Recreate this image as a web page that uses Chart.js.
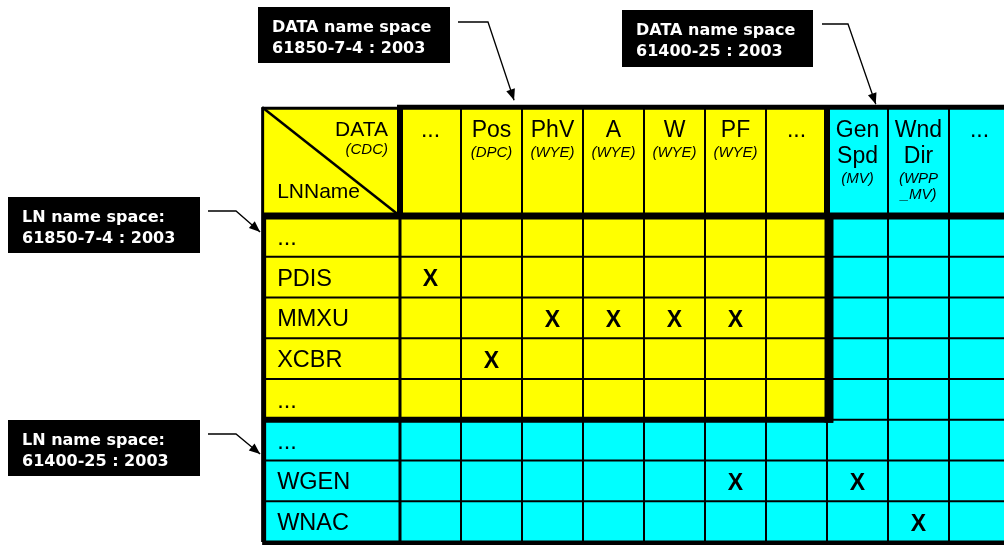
<!DOCTYPE html>
<html>
<head>
<meta charset="utf-8">
<script src="https://cdn.jsdelivr.net/npm/chart.js@4.4.0/dist/chart.umd.min.js"></script>
<style>
html, body { margin: 0; padding: 0; background: #fff; }
#wrap { width: 1004px; height: 545px; }
</style>
</head>
<body>
<div id="wrap"><canvas id="chart" width="1004" height="545"></canvas></div>
<script>
// columns = data objects, rows = logical nodes
const dataColumns = ['...', 'Pos', 'PhV', 'A', 'W', 'PF', '...', 'Gen\nSpd', 'Wnd\nDir', '...'];
const dataTypes = ['', '(DPC)', '(WYE)', '(WYE)', '(WYE)', '(WYE)', '', '(MV)', '(WPP\n_MV)', ''];
const columnSpace = [0, 0, 0, 0, 0, 0, 0, 1, 1, 1]; // 0 = 61850-7-4, 1 = 61400-25
const lnNames = ['...', 'PDIS', 'MMXU', 'XCBR', '...', '...', 'WGEN', 'WNAC'];
const rowSpace = [0, 0, 0, 0, 0, 1, 1, 1];
// cells marked with X
const usedRows = [1, 2, 2, 2, 2, 3, 6, 6, 7];
const usedCols = [0, 2, 3, 4, 5, 1, 5, 7, 8];
const calloutTitles = ['DATA name space', 'DATA name space', 'LN name space:', 'LN name space:'];
const calloutStandards = ['61850-7-4 : 2003', '61400-25 : 2003', '61850-7-4 : 2003', '61400-25 : 2003'];

const YELLOW = '#ffff00';
const CYAN = '#00ffff';
const HEAD_X = -2.26;   // left edge of LNName column, in column units
const HEAD_Y = -2.67;   // top edge of header row, in row units
const SANS = '"Liberation Sans", Arial, sans-serif';
const CALLOUT_FONT = 'bold 16px "DejaVu Sans", Verdana, sans-serif';

const markPoints = usedRows.map((r, i) => ({ x: usedCols[i] + 0.5, y: r + 0.5 }));

function line(ctx, x1, y1, x2, y2, w) {
    ctx.lineWidth = w;
    ctx.beginPath();
    ctx.moveTo(x1, y1);
    ctx.lineTo(x2, y2);
    ctx.stroke();
}

function arrow(ctx, pts) {
    ctx.strokeStyle = '#000';
    ctx.lineWidth = 1.3;
    ctx.beginPath();
    ctx.moveTo(pts[0][0], pts[0][1]);
    for (let i = 1; i < pts.length; i++) ctx.lineTo(pts[i][0], pts[i][1]);
    ctx.stroke();
    const [ax, ay] = pts[pts.length - 2];
    const [bx, by] = pts[pts.length - 1];
    const ang = Math.atan2(by - ay, bx - ax);
    const len = 11, half = 4.5;
    ctx.fillStyle = '#000';
    ctx.beginPath();
    ctx.moveTo(bx, by);
    ctx.lineTo(bx - len * Math.cos(ang) + half * Math.sin(ang), by - len * Math.sin(ang) - half * Math.cos(ang));
    ctx.lineTo(bx - len * Math.cos(ang) - half * Math.sin(ang), by - len * Math.sin(ang) + half * Math.cos(ang));
    ctx.closePath();
    ctx.fill();
}

const tablePlugin = {
    id: 'tablePlugin',
    beforeDatasetsDraw(chart) {
        const ctx = chart.ctx;
        const sx = chart.scales.x, sy = chart.scales.y;
        const X = v => sx.getPixelForValue(v);
        const Y = v => sy.getPixelForValue(v);
        const nCols = dataColumns.length, nRows = lnNames.length;
        ctx.save();
        // fills
        ctx.fillStyle = YELLOW;
        ctx.fillRect(X(HEAD_X), Y(HEAD_Y), X(0) - X(HEAD_X), Y(0) - Y(HEAD_Y));
        dataColumns.forEach((c, i) => {
            ctx.fillStyle = columnSpace[i] ? CYAN : YELLOW;
            ctx.fillRect(X(i), Y(HEAD_Y), X(i + 1) - X(i), Y(0) - Y(HEAD_Y));
        });
        lnNames.forEach((r, j) => {
            ctx.fillStyle = rowSpace[j] ? CYAN : YELLOW;
            ctx.fillRect(X(HEAD_X), Y(j), X(0) - X(HEAD_X), Y(j + 1) - Y(j));
            dataColumns.forEach((c, i) => {
                ctx.fillStyle = (rowSpace[j] || columnSpace[i]) ? CYAN : YELLOW;
                ctx.fillRect(X(i), Y(j), X(i + 1) - X(i), Y(j + 1) - Y(j));
            });
        });
        // thin grid
        ctx.strokeStyle = '#000';
        for (let i = 1; i <= nCols; i++) line(ctx, X(i), Y(HEAD_Y), X(i), Y(nRows), 2);
        for (let j = 1; j < nRows; j++) line(ctx, X(HEAD_X), Y(j), X(nCols), Y(j), 2);
        line(ctx, X(0), Y(0), X(0), Y(nRows), 3);
        // diagonal of corner cell
        line(ctx, X(HEAD_X), Y(HEAD_Y), X(0), Y(0), 2.5);
        // thick frame lines
        line(ctx, X(HEAD_X), Y(HEAD_Y) + 1, X(0), Y(HEAD_Y) + 1, 3);
        line(ctx, X(0) - 3, Y(HEAD_Y), X(nCols), Y(HEAD_Y), 5);
        line(ctx, X(0), Y(HEAD_Y), X(0), Y(0), 6);
        line(ctx, X(HEAD_X), Y(0), X(nCols), Y(0), 7);
        line(ctx, X(HEAD_X) + 0.5, Y(HEAD_Y), X(HEAD_X) + 0.5, Y(0), 3);
        line(ctx, X(HEAD_X) + 1.5, Y(0), X(HEAD_X) + 1.5, Y(nRows), 5);
        line(ctx, X(7), Y(HEAD_Y), X(7), Y(0), 6);
        line(ctx, X(7) + 2, Y(0), X(7) + 2, Y(5) + 3, 9);
        line(ctx, X(HEAD_X), Y(5), X(7) + 6, Y(5), 6);
        line(ctx, X(HEAD_X), Y(nRows) + 1, X(nCols), Y(nRows) + 1, 5);
        ctx.restore();
    },
    afterDatasetsDraw(chart) {
        const ctx = chart.ctx;
        const sx = chart.scales.x, sy = chart.scales.y;
        const X = v => sx.getPixelForValue(v);
        const Y = v => sy.getPixelForValue(v);
        ctx.save();
        ctx.fillStyle = '#000';
        ctx.textBaseline = 'alphabetic';
        const top = Y(HEAD_Y);
        // corner cell
        ctx.textAlign = 'right';
        ctx.font = '21px ' + SANS;
        ctx.fillText('DATA', X(0) - 12, top + 29);
        ctx.font = 'italic 15px ' + SANS;
        ctx.fillText('(CDC)', X(0) - 12, top + 47);
        ctx.textAlign = 'left';
        ctx.font = '21px ' + SANS;
        ctx.fillText('LNName', X(HEAD_X) + 15, Y(0) - 18);
        // column headers
        ctx.textAlign = 'center';
        dataColumns.forEach((c, i) => {
            const cx = X(i + 0.5);
            let base = top + 30;
            ctx.font = '23px ' + SANS;
            c.split('\n').forEach((t, k) => {
                if (k) base += 26;
                ctx.fillText(t, cx, base);
            });
            base += 20;
            ctx.font = 'italic 15px ' + SANS;
            dataTypes[i].split('\n').forEach((t, k) => {
                if (!t) return;
                if (k) base += 16;
                ctx.fillText(t, cx, base);
            });
        });
        // row labels
        ctx.textAlign = 'left';
        ctx.font = '23.5px ' + SANS;
        lnNames.forEach((r, j) => {
            ctx.fillText(r, X(HEAD_X) + 15, Y(j + 0.5) + 8.5);
        });
        // X marks from dataset elements
        ctx.textAlign = 'center';
        ctx.font = 'bold 23px ' + SANS;
        chart.getDatasetMeta(0).data.forEach(el => {
            ctx.fillText('X', el.x, el.y + 9);
        });
        // callouts
        const boxes = [
            { x: 258, y: 7, w: 192, h: 56, path: [[458, 22], [488, 22]], tip: [1.87, HEAD_Y, -7] },
            { x: 622, y: 10, w: 191, h: 57, path: [[822, 24], [848, 24]], tip: [7.8, HEAD_Y, -3] },
            { x: 8, y: 197, w: 192, h: 56, path: [[208, 211], [236, 211]], tip: [HEAD_X, 0.39, -2] },
            { x: 8, y: 420, w: 192, h: 56, path: [[208, 434], [236, 434]], tip: [HEAD_X, 5.84, -2] }
        ];
        boxes.forEach((b, i) => {
            ctx.fillStyle = '#000';
            ctx.fillRect(b.x, b.y, b.w, b.h);
            ctx.fillStyle = '#fff';
            ctx.textAlign = 'left';
            ctx.font = CALLOUT_FONT;
            ctx.fillText(calloutTitles[i], b.x + 14, b.y + 25);
            ctx.fillText(calloutStandards[i], b.x + 14, b.y + 46);
            const tipPx = b.tip[1] === HEAD_Y
                ? [X(b.tip[0]), Y(b.tip[1]) + b.tip[2]]
                : [X(b.tip[0]) + b.tip[2], Y(b.tip[1])];
            arrow(ctx, b.path.concat([tipPx]));
        });
        ctx.restore();
    }
};

new Chart(document.getElementById('chart'), {
    type: 'scatter',
    data: {
        datasets: [{
            label: 'used',
            data: markPoints,
            pointRadius: 0,
            pointHoverRadius: 0,
            showLine: false
        }]
    },
    options: {
        responsive: false,
        animation: false,
        devicePixelRatio: 1,
        layout: { padding: 0 },
        plugins: { legend: { display: false }, tooltip: { enabled: false } },
        scales: {
            x: { type: 'linear', display: false, min: -400 / 61, max: 604 / 61 },
            y: { type: 'linear', display: false, reverse: true, min: -216 / 40.75, max: (545 - 216) / 40.75 }
        }
    },
    plugins: [tablePlugin]
});
</script>
</body>
</html>
